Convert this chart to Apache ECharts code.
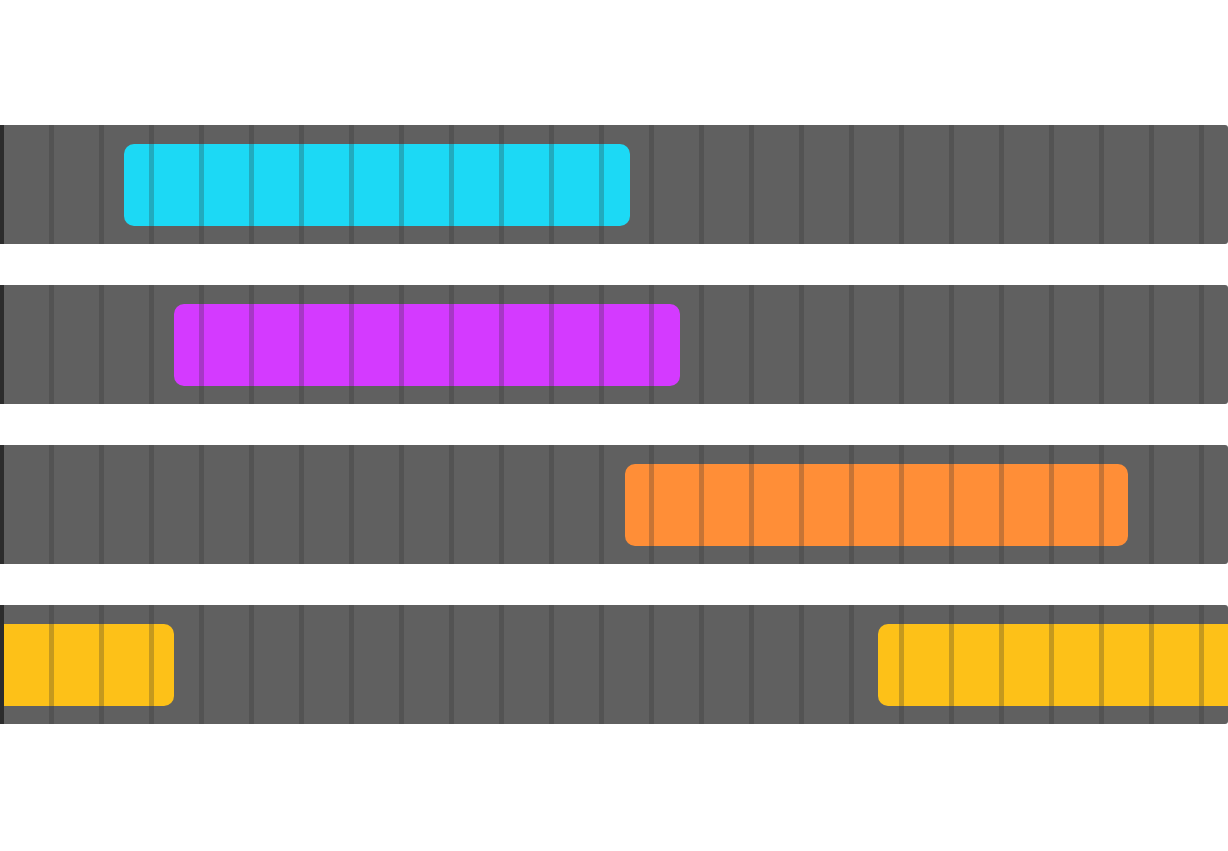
<!DOCTYPE html>
<html>
<head>
<meta charset="utf-8">
<script src="https://cdn.jsdelivr.net/npm/echarts@6/dist/echarts.min.js"></script>
<style>html,body{margin:0;padding:0;background:#fff}#c{width:1228px;height:851px}</style>
</head>
<body>
<div id="c"></div>
<script>
// Rows (top to bottom)
const rows = ['Row 1', 'Row 2', 'Row 3', 'Row 4'];
// Hour tick marks drawn as vertical dividers (0 = dark left edge)
const ticks = [0, 1, 2, 3, 4, 5, 6, 7, 8, 9, 10, 11, 12, 13, 14, 15, 16, 17, 18, 19, 20, 21, 22, 23, 24];
const axisMax = 24.53;
// Bars: row index, start, end
const barRow   = [0, 1, 2, 3, 3];
const barStart = [2.45, 3.45, 12.47, -1, 17.53];
const barEnd   = [12.57, 13.57, 22.53, 3.45, 27.45];
const barColor = ['#1cd9f5', '#d43aff', '#ff8e37', '#fdc118', '#fdc118'];

const chart = echarts.init(document.getElementById('c'), null, {renderer: 'canvas'});

const rowData = rows.map((r, i) => [i, 0, axisMax]);
const barData = barRow.map((r, i) => ({value: [r, barStart[i], barEnd[i]], itemStyle: {color: barColor[i]}}));
const tickData = [];
rows.forEach((r, i) => ticks.forEach(t => tickData.push([t, i])));

function rowBand(api, idx) {
  const c = api.coord([0, idx]);
  const h = api.size([0, 1])[1];
  return {cy: c[1], h: h};
}

const option = {
  animation: false,
  grid: {left: 1.5, right: 0, top: 104.5, bottom: 106.5},
  xAxis: {type: 'value', min: 0, max: axisMax, show: false},
  yAxis: {type: 'category', data: rows, inverse: true, show: false},
  series: [
    {
      type: 'custom', z: 1, clip: false,
      data: rowData,
      renderItem: function (params, api) {
        const idx = api.value(0);
        const b = rowBand(api, idx);
        const x0 = api.coord([api.value(1), idx])[0];
        const x1 = api.coord([api.value(2), idx])[0];
        const rh = b.h * 0.744;
        return {
          type: 'rect',
          shape: {x: x0 - 1.5, y: b.cy - rh / 2, width: x1 - x0 + 1.5, height: rh, r: [0, 3, 3, 0]},
          style: {fill: '#606060'}
        };
      }
    },
    {
      type: 'custom', z: 2, clip: false,
      data: barData,
      renderItem: function (params, api) {
        const idx = api.value(0);
        const b = rowBand(api, idx);
        const s = api.value(1), e = api.value(2);
        const cs = Math.max(s, 0), ce = Math.min(e, axisMax);
        const x0 = api.coord([cs, idx])[0] - (s < 0 ? 1.5 : 0);
        const x1 = api.coord([ce, idx])[0];
        const bh = b.h * 0.5125;
        const rl = s < 0 ? 0 : 10, rr = e > axisMax ? 0 : 10;
        return {
          type: 'rect',
          shape: {x: x0, y: b.cy + 0.5 - bh / 2, width: x1 - x0, height: bh, r: [rl, rr, rr, rl]},
          style: {fill: api.visual('color')}
        };
      }
    },
    {
      type: 'custom', z: 3, clip: false,
      data: tickData,
      renderItem: function (params, api) {
        const idx = api.value(1);
        const t = api.value(0);
        const b = rowBand(api, idx);
        const x = api.coord([t, idx])[0];
        const rh = b.h * 0.744;
        if (t === 0) {
          return {
            type: 'rect',
            shape: {x: x - 1.5, y: b.cy - rh / 2, width: 4, height: rh},
            style: {fill: '#2c2c2c'}
          };
        }
        return {
          type: 'rect',
          shape: {x: x - 2.5, y: b.cy - rh / 2, width: 5, height: rh},
          style: {fill: 'rgba(48,48,48,0.27)'}
        };
      }
    }
  ]
};
chart.setOption(option);
</script>
</body>
</html>
